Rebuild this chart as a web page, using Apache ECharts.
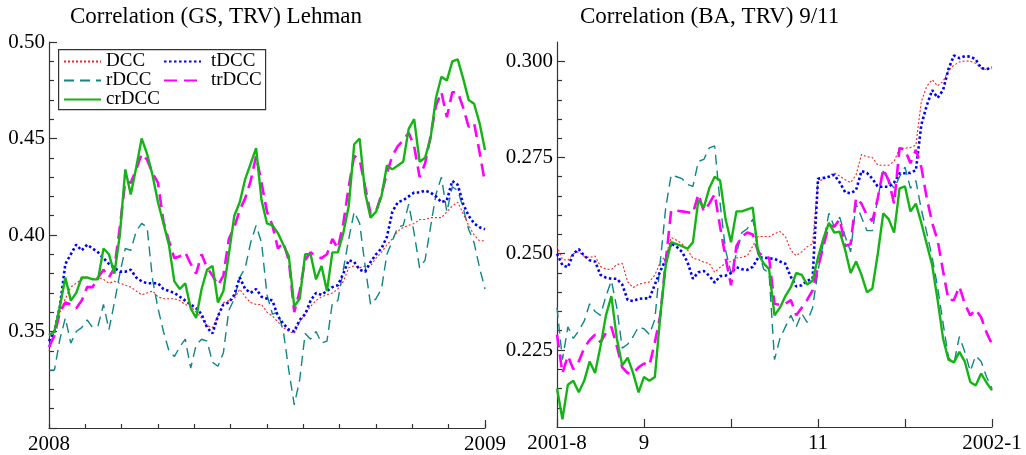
<!DOCTYPE html>
<html>
<head>
    <meta charset="utf-8">
    <title>Correlation panels</title>
    <script src="https://cdn.jsdelivr.net/npm/echarts@6.0.0/dist/echarts.min.js"></script>
    <style>
        body { margin: 0; background: #fff; }
    </style>
</head>
<body>
    <div id="main" style="width: 1026px;height:455px;"></div>
    <script type="text/javascript">
        // x positions: months since 1 Jan 2008 (left), month number of 2001 (right)
        var leftMonths = [0, 0.15, 0.3, 0.45, 0.6, 0.75, 0.9, 1.05, 1.2, 1.35, 1.5, 1.65, 1.8, 1.95, 2.1, 2.25,
            2.4, 2.55, 2.7, 2.85, 3, 3.15, 3.3, 3.45, 3.6, 3.75, 3.9, 4.05, 4.2, 4.35, 4.5, 4.65,
            4.8, 4.95, 5.1, 5.25, 5.4, 5.55, 5.7, 5.85, 6, 6.15, 6.3, 6.45, 6.6, 6.75, 6.9, 7.05,
            7.2, 7.35, 7.5, 7.65, 7.8, 7.95, 8.1, 8.25, 8.4, 8.55, 8.7, 8.85, 9, 9.15, 9.3, 9.45,
            9.6, 9.75, 9.9, 10.05, 10.2, 10.35, 10.5, 10.65, 10.8, 10.95, 11.1, 11.25, 11.4, 11.55, 11.7, 11.85, 12];
        var rightMonths = [8, 8.0625, 8.125, 8.1875, 8.25, 8.3125, 8.375, 8.4375, 8.5, 8.5625, 8.625, 8.6875, 8.75, 8.8125, 8.875, 8.9375,
            9, 9.0625, 9.125, 9.1875, 9.25, 9.3125, 9.375, 9.4375, 9.5, 9.5625, 9.625, 9.6875, 9.75, 9.8125, 9.875, 9.9375,
            10, 10.0625, 10.125, 10.1875, 10.25, 10.3125, 10.375, 10.4375, 10.5, 10.5625, 10.625, 10.6875, 10.75, 10.8125, 10.875, 10.9375,
            11, 11.0625, 11.125, 11.1875, 11.25, 11.3125, 11.375, 11.4375, 11.5, 11.5625, 11.625, 11.6875, 11.75, 11.8125, 11.875, 11.9375,
            12, 12.0625, 12.125, 12.1875, 12.25, 12.3125, 12.375, 12.4375, 12.5, 12.5625, 12.625, 12.6875, 12.75, 12.8125, 12.875, 12.9375, 13];

        // Lehman panel (GS, TRV), 2008
        var dccLeft = [0.340, 0.350, 0.360, 0.367, 0.373, 0.375, 0.377, 0.378, 0.377, 0.378,
            0.377, 0.375, 0.376, 0.375, 0.374, 0.373, 0.371, 0.369, 0.370, 0.371,
            0.368, 0.367, 0.367, 0.367, 0.366, 0.364, 0.363, 0.360, 0.357, 0.353,
            0.352, 0.358, 0.365, 0.366, 0.367, 0.372, 0.368, 0.365, 0.364, 0.364,
            0.360, 0.358, 0.355, 0.352, 0.350, 0.349, 0.355, 0.359, 0.363, 0.366,
            0.368, 0.369, 0.370, 0.372, 0.376, 0.383, 0.384, 0.383, 0.384, 0.384,
            0.388, 0.391, 0.395, 0.398, 0.402, 0.404, 0.405, 0.406, 0.408, 0.408,
            0.409, 0.409, 0.409, 0.412, 0.415, 0.417, 0.411, 0.405, 0.400, 0.397,
            0.397];
        var tdccLeft = [0.345, 0.350, 0.363, 0.385, 0.390, 0.395, 0.392, 0.395, 0.393, 0.391,
            0.388, 0.385, 0.383, 0.381, 0.381, 0.382, 0.378, 0.376, 0.375, 0.375,
            0.375, 0.372, 0.371, 0.370, 0.368, 0.366, 0.364, 0.362, 0.359, 0.352,
            0.349, 0.358, 0.364, 0.365, 0.369, 0.378, 0.372, 0.370, 0.372, 0.368,
            0.367, 0.366, 0.358, 0.354, 0.351, 0.350, 0.356, 0.359, 0.366, 0.370,
            0.369, 0.371, 0.373, 0.374, 0.380, 0.387, 0.386, 0.382, 0.381, 0.386,
            0.390, 0.393, 0.399, 0.412, 0.417, 0.418, 0.420, 0.422, 0.422, 0.423,
            0.422, 0.420, 0.417, 0.418, 0.428, 0.426, 0.416, 0.410, 0.406, 0.404,
            0.403];
        var rdccLeft = [0.330, 0.330, 0.346, 0.357, 0.344, 0.350, 0.352, 0.356, 0.352, 0.353,
            0.364, 0.351, 0.365, 0.380, 0.393, 0.392, 0.402, 0.406, 0.404, 0.377,
            0.362, 0.350, 0.340, 0.337, 0.342, 0.346, 0.331, 0.343, 0.346, 0.345,
            0.334, 0.332, 0.339, 0.361, 0.367, 0.378, 0.383, 0.396, 0.405, 0.396,
            0.369, 0.359, 0.360, 0.350, 0.330, 0.312, 0.325, 0.349, 0.346, 0.350,
            0.344, 0.345, 0.365, 0.366, 0.382, 0.398, 0.412, 0.406, 0.384, 0.364,
            0.367, 0.372, 0.390, 0.397, 0.404, 0.405, 0.416, 0.401, 0.383, 0.387,
            0.404, 0.421, 0.430, 0.412, 0.425, 0.423, 0.414, 0.403, 0.396, 0.383,
            0.372];
        var trdccLeft = [0.342, 0.348, 0.360, 0.365, 0.364, 0.362, 0.366, 0.373, 0.373, 0.378,
            0.382, 0.378, 0.383, 0.404, 0.428, 0.427, 0.434, 0.442, 0.439, 0.432,
            0.427, 0.407, 0.397, 0.388, 0.389, 0.391, 0.385, 0.380, 0.390, 0.383,
            0.379, 0.374, 0.379, 0.398, 0.404, 0.413, 0.419, 0.428, 0.441, 0.427,
            0.412, 0.405, 0.393, 0.396, 0.387, 0.360, 0.371, 0.387, 0.391, 0.389,
            0.388, 0.390, 0.398, 0.393, 0.406, 0.425, 0.441, 0.439, 0.425, 0.411,
            0.412, 0.421, 0.432, 0.441, 0.446, 0.449, 0.453, 0.446, 0.430, 0.437,
            0.451, 0.467, 0.474, 0.461, 0.474, 0.474, 0.466, 0.456, 0.458, 0.443,
            0.427];
        var crdccLeft = [0.348, 0.350, 0.363, 0.378, 0.366, 0.370, 0.378, 0.378, 0.377, 0.377,
            0.393, 0.390, 0.380, 0.400, 0.434, 0.421, 0.435, 0.450, 0.442, 0.431,
            0.417, 0.406, 0.395, 0.376, 0.372, 0.375, 0.362, 0.357, 0.372, 0.382,
            0.384, 0.365, 0.371, 0.390, 0.410, 0.417, 0.429, 0.437, 0.445, 0.418,
            0.406, 0.405, 0.401, 0.395, 0.389, 0.363, 0.367, 0.390, 0.390, 0.377,
            0.384, 0.371, 0.391, 0.391, 0.401, 0.415, 0.447, 0.450, 0.422, 0.409,
            0.412, 0.420, 0.436, 0.434, 0.436, 0.438, 0.455, 0.460, 0.438, 0.440,
            0.450, 0.471, 0.482, 0.480, 0.490, 0.491, 0.481, 0.470, 0.468, 0.458,
            0.444];

        // 9/11 panel (BA, TRV), Aug 2001 - Jan 2002
        var dccRight = [0.252, 0.2485, 0.2483, 0.250, 0.2505, 0.2493, 0.249, 0.2494, 0.2467, 0.246,
            0.2459, 0.2472, 0.2475, 0.2427, 0.2412, 0.2421, 0.2424, 0.2427, 0.2445, 0.2478,
            0.2495, 0.2542, 0.2535, 0.2526, 0.251, 0.2488, 0.2485, 0.2478, 0.2475, 0.2452,
            0.2465, 0.2475, 0.248, 0.2489, 0.2491, 0.2495, 0.252, 0.2545, 0.2545, 0.2544,
            0.2552, 0.2558, 0.2545, 0.2509, 0.2495, 0.2505, 0.2518, 0.2526, 0.2688, 0.2693,
            0.2702, 0.271, 0.2702, 0.2692, 0.2685, 0.2705, 0.2758, 0.2752, 0.275, 0.273,
            0.273, 0.273, 0.274, 0.2774, 0.2774, 0.2776, 0.2782, 0.2895, 0.2935, 0.2952,
            0.2936, 0.2948, 0.2975, 0.299, 0.2998, 0.3001, 0.3, 0.2995, 0.2982, 0.2978,
            0.2986];
        var tdccRight = [0.250, 0.247, 0.2465, 0.250, 0.2512, 0.2495, 0.2483, 0.248, 0.2445, 0.2438,
            0.2435, 0.2435, 0.242, 0.238, 0.2377, 0.2383, 0.2384, 0.2384, 0.242, 0.2455,
            0.2485, 0.2527, 0.2518, 0.2505, 0.2478, 0.2435, 0.2452, 0.2455, 0.2443, 0.2425,
            0.2442, 0.2443, 0.245, 0.2465, 0.246, 0.2458, 0.2466, 0.249, 0.249, 0.2488,
            0.2487, 0.248, 0.2474, 0.244, 0.2415, 0.2418, 0.243, 0.2435, 0.2695, 0.2697,
            0.270, 0.2705, 0.2685, 0.266, 0.2657, 0.2665, 0.2715, 0.271, 0.2695, 0.2674,
            0.2674, 0.2674, 0.2685, 0.2709, 0.2709, 0.271, 0.2717, 0.2835, 0.2885, 0.2925,
            0.2905, 0.2925, 0.298, 0.3015, 0.3008, 0.3013, 0.3012, 0.3005, 0.2982, 0.298,
            0.2982];
        var rdccRight = [0.236, 0.2225, 0.231, 0.228, 0.230, 0.2325, 0.237, 0.235, 0.234, 0.239,
            0.243, 0.236, 0.2255, 0.2265, 0.2285, 0.231, 0.2305, 0.229, 0.233, 0.248,
            0.262, 0.2705, 0.270, 0.2695, 0.268, 0.2675, 0.274, 0.2745, 0.2775, 0.278,
            0.263, 0.251, 0.245, 0.250, 0.2555, 0.2565, 0.259, 0.2515, 0.246, 0.245,
            0.2225, 0.228, 0.231, 0.234, 0.231, 0.2345, 0.2322, 0.236, 0.2455, 0.253,
            0.2605, 0.257, 0.2595, 0.2545, 0.2505, 0.263, 0.2595, 0.256, 0.256, 0.2645,
            0.2715, 0.269, 0.267, 0.270, 0.2725, 0.267, 0.269, 0.2615, 0.2555, 0.249,
            0.2413, 0.232, 0.223, 0.2215, 0.2285, 0.2245, 0.2195, 0.2235, 0.222, 0.218,
            0.215];
        var trdccRight = [0.229, 0.219, 0.2235, 0.220, 0.222, 0.2255, 0.2276, 0.229, 0.227, 0.2295,
            0.231, 0.226, 0.2205, 0.219, 0.219, 0.2205, 0.2215, 0.221, 0.227, 0.234,
            0.248, 0.2613, 0.2612, 0.261, 0.2608, 0.2605, 0.2655, 0.261, 0.263, 0.2655,
            0.257, 0.249, 0.2418, 0.252, 0.2545, 0.2555, 0.255, 0.2505, 0.249, 0.249,
            0.237, 0.2367, 0.237, 0.238, 0.234, 0.236, 0.238, 0.2405, 0.2465, 0.252,
            0.2575, 0.257, 0.259, 0.252, 0.2525, 0.2645, 0.263, 0.260, 0.2585, 0.2645,
            0.272, 0.269, 0.263, 0.2775, 0.277, 0.2735, 0.277, 0.2725, 0.2645, 0.258,
            0.2535, 0.2455, 0.238, 0.238, 0.2415, 0.237, 0.234, 0.2355, 0.2335, 0.2295,
            0.2265];
        var crdccRight = [0.215, 0.207, 0.216, 0.217, 0.214, 0.217, 0.222, 0.219, 0.226, 0.234,
            0.239, 0.228, 0.221, 0.223, 0.219, 0.214, 0.218, 0.217, 0.218, 0.234,
            0.247, 0.253, 0.2525, 0.252, 0.2513, 0.253, 0.264, 0.262, 0.267, 0.270,
            0.269, 0.259, 0.253, 0.261, 0.261, 0.2615, 0.262, 0.250, 0.2475, 0.246,
            0.234, 0.236, 0.239, 0.2413, 0.245, 0.2445, 0.242, 0.243, 0.249, 0.254,
            0.258, 0.2555, 0.2557, 0.251, 0.245, 0.248, 0.2445, 0.240, 0.241, 0.250,
            0.2605, 0.259, 0.2555, 0.267, 0.2675, 0.261, 0.263, 0.258, 0.2525, 0.247,
            0.238, 0.228, 0.2225, 0.2218, 0.2245, 0.222, 0.2167, 0.2158, 0.2189, 0.2165,
            0.2145];

        // tick labels
        var leftXLabels = ['2008', '', '', '', '', '', '', '', '', '', '', '', '2009'];
        var rightXLabels = ['2001-8', '9', '', '11', '', '2002-1'];
        var rightYMajor = [0.225, 0.25, 0.275, 0.3];
        var rightYMinor = [0.21, 0.215, 0.22, 0.23, 0.235, 0.24, 0.245, 0.255, 0.26, 0.265, 0.27, 0.28, 0.285, 0.29, 0.295];

        var FONT = 'Liberation Serif';
        var axisColor = '#333';

        var styles = {
            DCC:   { color: '#ff2020', width: 1.1, type: [2, 2] },
            rDCC:  { color: '#108585', width: 1.4, type: [10, 6] },
            tDCC:  { color: '#0000ff', width: 2.6, type: [2.5, 2.5] },
            trDCC: { color: '#ff00ff', width: 2.6, type: [13, 7] },
            crDCC: { color: '#15b415', width: 2.4, type: 'solid' }
        };

        function pairs(xs, ys) {
            return xs.map(function (x, i) { return [x, ys[i]]; });
        }

        function makeSeries(name, xs, ys, xi, yi) {
            var s = styles[name];
            return {
                name: name,
                type: 'line',
                xAxisIndex: xi,
                yAxisIndex: yi,
                symbol: 'none',
                itemStyle: { color: s.color },
                lineStyle: { color: s.color, width: s.width, type: s.type, cap: 'butt' },
                data: pairs(xs, ys)
            };
        }

        var lineSt = { color: axisColor, width: 1.2 };
        var legendText = { fontFamily: FONT, fontSize: 19, lineHeight: 19, color: '#000' };

        var myChart = echarts.init(document.getElementById('main'));

        var option = {
            animation: false,
            backgroundColor: '#fff',
            title: [
                { text: 'Correlation (GS, TRV) Lehman', left: 70, top: 5, padding: 0,
                  textStyle: { fontFamily: FONT, fontSize: 23, fontWeight: 'normal', color: '#000' } },
                { text: 'Correlation (BA, TRV) 9/11', left: 580, top: 5, padding: 0,
                  textStyle: { fontFamily: FONT, fontSize: 23, fontWeight: 'normal', color: '#000' } }
            ],
            legend: [
                { left: 63, top: 52, orient: 'vertical', padding: 0, itemWidth: 37, itemHeight: 14, itemGap: 0,
                  itemStyle: { opacity: 0 },
                  data: ['DCC', 'rDCC', 'crDCC'], textStyle: legendText },
                { left: 163, top: 52, orient: 'vertical', padding: 0, itemWidth: 37, itemHeight: 14, itemGap: 0,
                  itemStyle: { opacity: 0 },
                  data: ['tDCC', 'trDCC'], textStyle: { fontFamily: FONT, fontSize: 19, lineHeight: 19, color: '#000', padding: [0, 0, 0, 5] } }
            ],
            graphic: [
                { type: 'rect', left: 58, top: 49, z: 3, shape: { width: 207, height: 60 },
                  style: { fill: '#fff', stroke: axisColor, lineWidth: 1.2 } }
            ],
            grid: [
                { left: 49, top: 42, width: 436, height: 386 },
                { left: 557, top: 42, width: 435, height: 385 }
            ],
            xAxis: [
                { gridIndex: 0, type: 'value', min: 0, max: 12, interval: 1, position: 'bottom',
                  axisLine: { onZero: false, lineStyle: lineSt },
                  axisTick: { show: true, inside: true, length: 4, lineStyle: lineSt },
                  axisLabel: { margin: 6, formatter: function (v) { return leftXLabels[Math.round(v)] || ''; }, fontFamily: FONT, fontSize: 21, color: '#000' },
                  splitLine: { show: false } },
                { gridIndex: 0, type: 'value', min: 0, max: 12, position: 'bottom',
                  axisLine: { show: false },
                  axisTick: { show: true, inside: true, length: 8, customValues: [12], lineStyle: lineSt },
                  axisLabel: { show: false }, splitLine: { show: false } },
                { gridIndex: 1, type: 'value', min: 8, max: 13, interval: 1, position: 'bottom',
                  axisLine: { onZero: false, lineStyle: lineSt },
                  axisTick: { show: true, inside: true, length: 8, lineStyle: lineSt },
                  axisLabel: { margin: 6, formatter: function (v) { return rightXLabels[Math.round(v) - 8] || ''; }, fontFamily: FONT, fontSize: 21, color: '#000' },
                  splitLine: { show: false } }
            ],
            yAxis: [
                { gridIndex: 0, type: 'value', min: 0.3, max: 0.5, interval: 0.05, position: 'left',
                  axisLine: { show: true, onZero: false, lineStyle: lineSt },
                  axisTick: { show: true, inside: true, length: 8, lineStyle: lineSt },
                  minorTick: { show: true, splitNumber: 5, length: 5, lineStyle: lineSt },
                  axisLabel: { showMinLabel: false, margin: 4, formatter: function (v) { return v.toFixed(2); }, fontFamily: FONT, fontSize: 21, color: '#000' },
                  splitLine: { show: false } },
                { gridIndex: 1, type: 'value', min: 0.205, max: 0.305, position: 'left',
                  axisLine: { show: true, onZero: false, lineStyle: lineSt },
                  axisTick: { show: true, inside: true, length: 8, customValues: rightYMajor, lineStyle: lineSt },
                  axisLabel: { customValues: rightYMajor, margin: 4, formatter: function (v) { return v.toFixed(3); }, fontFamily: FONT, fontSize: 21, color: '#000' },
                  splitLine: { show: false } },
                { gridIndex: 1, type: 'value', min: 0.205, max: 0.305, position: 'left',
                  axisLine: { show: false },
                  axisTick: { show: true, inside: true, length: 5, customValues: rightYMinor, lineStyle: lineSt },
                  axisLabel: { show: false }, splitLine: { show: false } }
            ],
            series: [
                makeSeries('DCC', leftMonths, dccLeft, 0, 0),
                makeSeries('rDCC', leftMonths, rdccLeft, 0, 0),
                makeSeries('tDCC', leftMonths, tdccLeft, 0, 0),
                makeSeries('trDCC', leftMonths, trdccLeft, 0, 0),
                makeSeries('crDCC', leftMonths, crdccLeft, 0, 0),
                makeSeries('DCC', rightMonths, dccRight, 2, 1),
                makeSeries('rDCC', rightMonths, rdccRight, 2, 1),
                makeSeries('tDCC', rightMonths, tdccRight, 2, 1),
                makeSeries('trDCC', rightMonths, trdccRight, 2, 1),
                makeSeries('crDCC', rightMonths, crdccRight, 2, 1)
            ]
        };

        myChart.setOption(option);
    </script>
</body>
</html>
